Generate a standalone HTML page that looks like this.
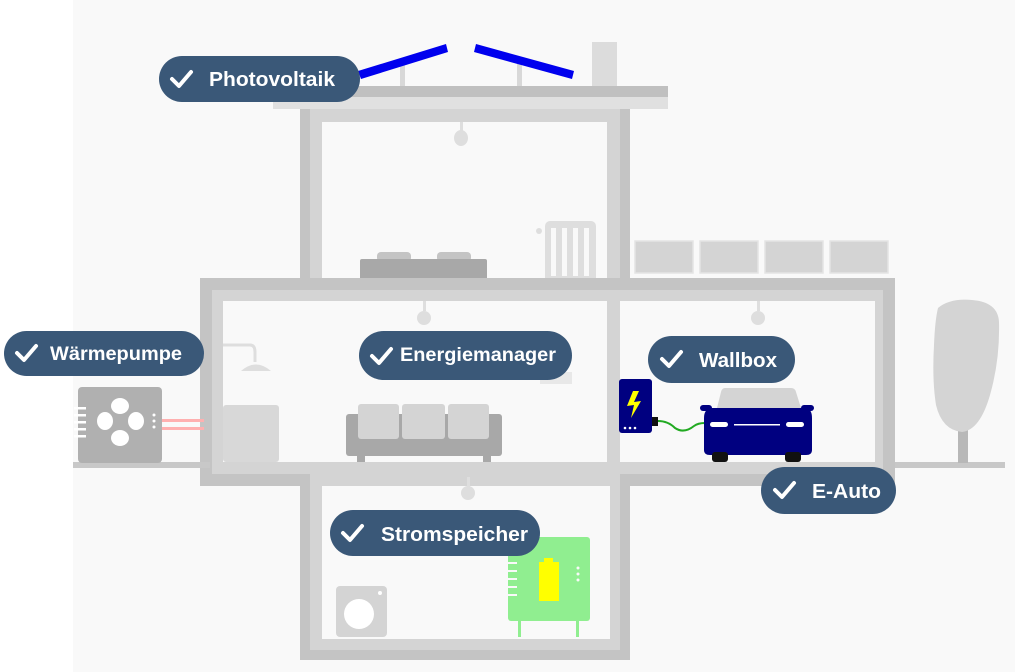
<!DOCTYPE html>
<html><head><meta charset="utf-8"><style>
html,body{margin:0;padding:0;background:#fff;}
svg{display:block}
.lbl{font-family:"Liberation Sans",sans-serif;font-weight:bold;fill:#fff;font-size:20.5px}
</style></head><body>
<svg width="1024" height="672" viewBox="0 0 1024 672" xmlns="http://www.w3.org/2000/svg">
<rect x="73" y="0" width="942" height="672" fill="#f9f9f9"/>
<rect x="592" y="42" width="25" height="44" fill="#dcdcdc"/>
<rect x="400" y="62" width="5" height="24" fill="#d8d8d8"/>
<rect x="517" y="62" width="5" height="24" fill="#d8d8d8"/>
<polygon points="358,71 446,44 448,52 361,79" fill="#0000ee"/>
<polygon points="476,44 574,71 572,79 474,52" fill="#0000ee"/>
<rect x="270" y="86" width="398" height="11" fill="#c0c0c0"/>
<rect x="273" y="97" width="395" height="12" fill="#e0e0e0"/>
<rect x="300" y="109" width="330" height="180" fill="#c4c4c4"/>
<rect x="310" y="109" width="310" height="180" fill="#d4d4d4"/>
<rect x="322" y="122" width="285" height="160" fill="#f9f9f9"/>
<rect x="460" y="122" width="3" height="10" fill="#dedede"/>
<ellipse cx="461" cy="138" rx="7" ry="8" fill="#dedede"/>
<rect x="377" y="252" width="34" height="10" rx="4" fill="#c4c4c4"/>
<rect x="437" y="252" width="34" height="10" rx="4" fill="#c4c4c4"/>
<rect x="360" y="259" width="127" height="28" rx="2" fill="#a8a8a8"/>
<rect x="365" y="285" width="8" height="5" fill="#a8a8a8"/>
<rect x="474" y="285" width="8" height="5" fill="#a8a8a8"/>
<circle cx="539" cy="231" r="3" fill="#dedede"/>
<rect x="545" y="221" width="51" height="62" rx="5" fill="#dedede"/>
<rect x="551" y="228" width="5" height="48" fill="#f9f9f9"/>
<rect x="562" y="228" width="5" height="48" fill="#f9f9f9"/>
<rect x="573" y="228" width="5" height="48" fill="#f9f9f9"/>
<rect x="584" y="228" width="5" height="48" fill="#f9f9f9"/>
<g fill="#d4d4d4" stroke="#e4e4e4" stroke-width="1.5">
<rect x="635" y="241" width="58" height="32"/><rect x="700" y="241" width="58" height="32"/>
<rect x="765" y="241" width="58" height="32"/><rect x="830" y="241" width="58" height="32"/>
</g>
<rect x="200" y="278" width="695" height="208" fill="#c4c4c4"/>
<rect x="212" y="290" width="671" height="184" fill="#d4d4d4"/>
<rect x="223" y="301" width="384" height="161" fill="#f9f9f9"/>
<rect x="620" y="301" width="255" height="161" fill="#f9f9f9"/>
<rect x="423" y="301" width="3" height="10" fill="#dedede"/><circle cx="424" cy="318" r="7" fill="#dedede"/>
<rect x="757" y="301" width="3" height="10" fill="#dedede"/><circle cx="758" cy="318" r="7" fill="#dedede"/>
<path d="M223 345 H250 Q255 345 255 352 V362" stroke="#dedede" stroke-width="3" fill="none"/>
<path d="M241 371 Q256 358 271 371 Z" fill="#dedede"/>
<rect x="223" y="405" width="56" height="57" rx="3" fill="#d8d8d8"/>
<rect x="346" y="414" width="156" height="42" rx="3" fill="#a8a8a8"/>
<rect x="358" y="404" width="41" height="35" rx="3" fill="#d4d4d4"/>
<rect x="402" y="404" width="43" height="35" rx="3" fill="#d4d4d4"/>
<rect x="448" y="404" width="41" height="35" rx="3" fill="#d4d4d4"/>
<rect x="357" y="455" width="8" height="7" fill="#a8a8a8"/><rect x="483" y="455" width="8" height="7" fill="#a8a8a8"/>
<rect x="607" y="301" width="13" height="161" fill="#d4d4d4"/>
<rect x="540" y="372" width="32" height="12" fill="#e8e8e8"/>
<rect x="73" y="462" width="137" height="6" fill="#c8c8c8"/>
<rect x="162" y="419" width="42" height="3" fill="#ffb0b0"/>
<rect x="162" y="427" width="42" height="3" fill="#ffb0b0"/>
<rect x="78" y="387" width="84" height="76" rx="4" fill="#b0b0b0"/>
<g fill="#fff">
<rect x="74" y="407" width="12" height="2.5"/><rect x="74" y="414" width="12" height="2.5"/><rect x="74" y="421" width="12" height="2.5"/><rect x="74" y="428" width="12" height="2.5"/><rect x="74" y="435" width="12" height="2.5"/>
<ellipse cx="120" cy="406" rx="9" ry="8"/><ellipse cx="120" cy="438" rx="9" ry="8"/>
<ellipse cx="105" cy="421" rx="8" ry="9"/><ellipse cx="136" cy="421" rx="8" ry="9"/>
<circle cx="154" cy="415" r="1.5"/><circle cx="154" cy="421" r="1.5"/><circle cx="154" cy="427" r="1.5"/>
</g>
<rect x="895" y="462" width="110" height="6" fill="#c8c8c8"/>
<rect x="958" y="425" width="10" height="38" fill="#b8b8b8"/>
<path d="M938 308 Q950 298 972 300 Q998 302 999 322 Q1000 360 990 395 Q980 430 962 432 Q942 430 936 405 Q932 380 934 345 Q935 320 938 308 Z" fill="#d4d4d4"/>
<rect x="300" y="486" width="330" height="174" fill="#c4c4c4"/>
<rect x="310" y="474" width="310" height="176" fill="#d4d4d4"/>
<rect x="322" y="486" width="288" height="153" fill="#f9f9f9"/>
<rect x="467" y="477" width="3" height="10" fill="#dedede"/><circle cx="468" cy="493" r="7" fill="#dedede"/>
<rect x="336" y="586" width="51" height="51" rx="4" fill="#d4d4d4"/>
<circle cx="359" cy="614" r="15" fill="#fff"/><circle cx="380" cy="593" r="2" fill="#fff"/>
<rect x="508" y="537" width="82" height="84" rx="3" fill="#90ee90"/>
<rect x="518" y="619" width="3" height="18" fill="#90ee90"/><rect x="576" y="619" width="3" height="18" fill="#90ee90"/>
<g fill="#f9f9f9"><rect x="508" y="562" width="9" height="2"/><rect x="508" y="570" width="9" height="2"/><rect x="508" y="578" width="9" height="2"/><rect x="508" y="586" width="9" height="2"/><rect x="508" y="594" width="9" height="2"/>
<circle cx="578" cy="568" r="1.5"/><circle cx="578" cy="574" r="1.5"/><circle cx="578" cy="580" r="1.5"/></g>
<rect x="544" y="558" width="9" height="5" fill="#ffff00"/>
<rect x="539" y="562" width="20" height="39" fill="#ffff00"/>
<rect x="619" y="379" width="33" height="54" rx="3" fill="#000080"/>
<polygon points="633,391 627,406 634,405 631,418 641,401 634,402 639,391" fill="#ffff00"/>
<g fill="#fff"><circle cx="625" cy="428" r="1.3"/><circle cx="630" cy="428" r="1.3"/><circle cx="635" cy="428" r="1.3"/></g>
<rect x="652" y="417" width="6" height="9" fill="#111"/>
<path d="M658 421 Q668 421 675 428 Q684 434 694 426 Q698 423 705 423" stroke="#22aa22" stroke-width="2" fill="none"/>
<path d="M725 388 H791 Q795 388 796 392 L801 408 H717 L721 392 Q722 388 725 388 Z" fill="#d4d4d4"/>
<rect x="700" y="405" width="12" height="6" rx="3" fill="#000080"/>
<rect x="801" y="405" width="13" height="6" rx="3" fill="#000080"/>
<path d="M710 408 H807 Q812 410 812 418 V450 Q812 455 806 455 H710 Q704 455 704 450 V418 Q704 410 710 408 Z" fill="#000080"/>
<rect x="712" y="452" width="16" height="10" rx="3" fill="#111"/>
<rect x="785" y="452" width="16" height="10" rx="3" fill="#111"/>
<rect x="710" y="422" width="18" height="5" rx="2.5" fill="#fff"/>
<rect x="786" y="422" width="18" height="5" rx="2.5" fill="#fff"/>
<rect x="734" y="424" width="46" height="1.5" fill="#fff"/>
<g fill="#3a5878">
<rect x="159" y="56" width="201" height="46" rx="23"/>
<rect x="4" y="331" width="200" height="45" rx="22.5"/>
<rect x="359" y="331" width="213" height="49" rx="24.5"/>
<rect x="648" y="336" width="147" height="47" rx="23.5"/>
<rect x="761" y="467" width="135" height="47" rx="23.5"/>
<rect x="330" y="510" width="210" height="46" rx="23"/>
</g>
<g stroke="#fff" stroke-width="4" fill="none" stroke-linecap="round" stroke-linejoin="round">
<path d="M172 79 L179 86 L191 72"/>
<path d="M17 353 L24 360 L36 346"/>
<path d="M372 356 L379 363 L391 349"/>
<path d="M662 359 L669 366 L681 352"/>
<path d="M775 490 L782 497 L794 483"/>
<path d="M343 533 L350 540 L362 526"/>
</g>
<text class="lbl" x="209" y="86" textLength="126" lengthAdjust="spacingAndGlyphs">Photovoltaik</text>
<text class="lbl" x="50" y="360" style="font-size:19.5px" textLength="132" lengthAdjust="spacingAndGlyphs">Wärmepumpe</text>
<text class="lbl" x="400" y="361" style="font-size:19.5px" textLength="156" lengthAdjust="spacingAndGlyphs">Energiemanager</text>
<text class="lbl" x="699" y="367" textLength="78" lengthAdjust="spacingAndGlyphs">Wallbox</text>
<text class="lbl" x="812" y="498" textLength="69" lengthAdjust="spacingAndGlyphs">E-Auto</text>
<text class="lbl" x="381" y="541" textLength="147" lengthAdjust="spacingAndGlyphs">Stromspeicher</text>
</svg>
</body></html>
